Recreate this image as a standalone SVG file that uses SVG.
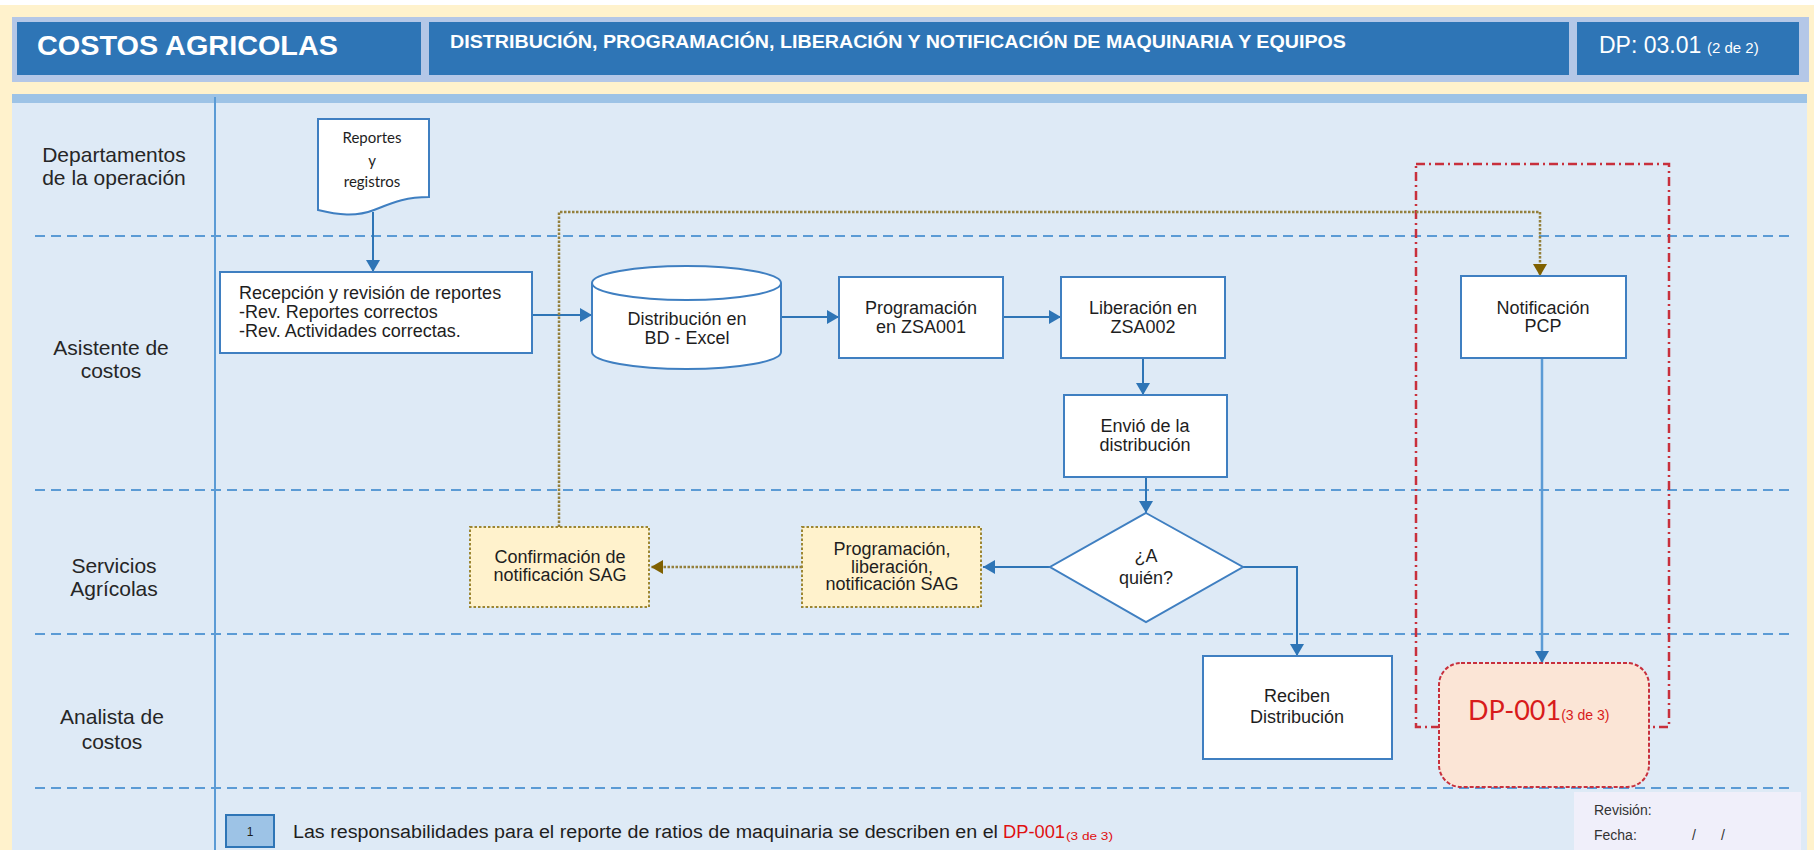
<svg xmlns="http://www.w3.org/2000/svg" width="1814" height="850" viewBox="0 0 1814 850">
  <style>
    .hdr { fill: #2E75B6; }
    .white { fill: #FFFFFF; font-family: "Liberation Sans", Arial, sans-serif; }
    .lane { fill: #262626; font-family: "Liberation Sans", Arial, sans-serif; font-size: 21px; text-anchor: middle; }
    .sep { stroke: #5B9BD5; stroke-width: 2; stroke-dasharray: 10 6; fill: none; }
    .box { fill: #FFFFFF; stroke: #3F7FC1; stroke-width: 2; }
    .sag { fill: #FFF2CC; stroke: #9C8632; stroke-width: 2; stroke-dasharray: 2.5 2; }
    .t { fill: #1E1E1E; font-family: "Liberation Sans", Arial, sans-serif; font-size: 18px; text-anchor: middle; }
    .tl { fill: #1E1E1E; font-family: "Liberation Sans", Arial, sans-serif; font-size: 18px; }
    .cal { fill: #1E1E1E; font-family: Lato, "Open Sans", sans-serif; font-size: 15px; text-anchor: middle; }
    .flow { stroke: #2E75B6; stroke-width: 2; fill: none; }
    .flow2 { stroke: #5B9BD5; stroke-width: 2.5; fill: none; }
    .dot { stroke: #94803C; stroke-width: 2.5; stroke-dasharray: 2.5 1.5; fill: none; }
    .note { fill: #1E1E1E; font-family: "Liberation Sans", Arial, sans-serif; font-size: 18px; }
    .red { fill: #E01010; font-family: "Liberation Sans", Arial, sans-serif; }
    .stamp { fill: #333333; font-family: "Liberation Sans", Arial, sans-serif; font-size: 14px; }
  </style>
  <defs>
    <marker id="arrow" markerUnits="userSpaceOnUse" markerWidth="14" markerHeight="14" refX="12" refY="7" orient="auto">
      <path d="M0,0 L12,7 L0,14 Z" fill="#2E75B6"/>
    </marker>
    <marker id="arrowOlive" markerUnits="userSpaceOnUse" markerWidth="14" markerHeight="14" refX="12" refY="7" orient="auto">
      <path d="M0,0 L12,7 L0,14 Z" fill="#7F6000"/>
    </marker>
  </defs>

  <!-- page background -->
  <rect x="0" y="0" width="1814" height="850" fill="#FFF2CC"/>
  <rect x="0" y="0" width="1814" height="5" fill="#FFFFFF"/>

  <!-- header band -->
  <g id="header">
    <rect x="12" y="17" width="1797" height="65" fill="#B4C7E7"/>
    <rect class="hdr" x="17" y="22" width="404" height="53"/>
    <rect class="hdr" x="429" y="22" width="1140" height="53"/>
    <rect class="hdr" x="1577" y="22" width="222" height="53"/>
    <text class="white" x="37" y="55" font-size="28" font-weight="bold" textLength="301" lengthAdjust="spacingAndGlyphs">COSTOS AGRICOLAS</text>
    <text class="white" x="450" y="48" font-size="19" font-weight="bold" textLength="896" lengthAdjust="spacingAndGlyphs">DISTRIBUCIÓN, PROGRAMACIÓN, LIBERACIÓN Y NOTIFICACIÓN DE MAQUINARIA Y EQUIPOS</text>
    <text class="white" x="1599" y="53" font-size="23">DP: 03.01</text>
    <text class="white" x="1707" y="53" font-size="15">(2 de 2)</text>
  </g>

  <!-- swimlane panel -->
  <g id="lanes">
    <rect x="12" y="94" width="1795" height="756" fill="#DEEAF6"/>
    <rect x="12" y="94" width="1795" height="9" fill="#9DC3E6"/>
    <line x1="215" y1="97" x2="215" y2="850" stroke="#5B9BD5" stroke-width="2"/>
    <line class="sep" x1="35" y1="236" x2="1793" y2="236"/>
    <line class="sep" x1="35" y1="490" x2="1793" y2="490"/>
    <line class="sep" x1="35" y1="634" x2="1793" y2="634"/>
    <line class="sep" x1="35" y1="788" x2="1793" y2="788"/>
    <text class="lane" x="114" y="162">Departamentos</text>
    <text class="lane" x="114" y="185">de la operación</text>
    <text class="lane" x="111" y="355">Asistente de</text>
    <text class="lane" x="111" y="378">costos</text>
    <text class="lane" x="114" y="573">Servicios</text>
    <text class="lane" x="114" y="596">Agrícolas</text>
    <text class="lane" x="112" y="724">Analista de</text>
    <text class="lane" x="112" y="749">costos</text>
  </g>

  <!-- scope frame around the PCP notification -->
  <rect id="scope" x="1416" y="164" width="253" height="563" fill="none" stroke="#C8303C" stroke-width="2.5" stroke-dasharray="9 4 2 4"/>

  <!-- connectors -->
  <g id="connectors">
    <path class="flow" d="M373,212 V272" marker-end="url(#arrow)"/>
    <path class="flow" d="M532,315 H592" marker-end="url(#arrow)"/>
    <path class="flow" d="M781,317 H839" marker-end="url(#arrow)"/>
    <path class="flow" d="M1003,317 H1061" marker-end="url(#arrow)"/>
    <path class="flow" d="M1143,358 V395" marker-end="url(#arrow)"/>
    <path class="flow" d="M1146,477 V513" marker-end="url(#arrow)"/>
    <path class="flow" d="M1050,567 H983" marker-end="url(#arrow)"/>
    <path class="flow" d="M1243,567 H1297 V656" marker-end="url(#arrow)"/>
    <path class="dot" d="M802,567 H651" marker-end="url(#arrowOlive)"/>
    <path class="dot" d="M559,527 V212 H1540 V276" marker-end="url(#arrowOlive)"/>
    <path class="flow2" d="M1542,358 V663" marker-end="url(#arrow)"/>
  </g>

  <!-- nodes -->
  <g id="reportes">
    <path class="box" d="M318,119 H429 V197 C405,197 392,203 374,210 C356,217 338,215 318,210 Z"/>
    <text class="cal" x="372" y="143">Reportes</text>
    <text class="cal" x="372" y="166">y</text>
    <text class="cal" x="372" y="187">registros</text>
  </g>

  <g id="recepcion">
    <rect class="box" x="220" y="272" width="312" height="81"/>
    <text class="tl" x="239" y="299">Recepción y revisión de reportes</text>
    <text class="tl" x="239" y="318">-Rev. Reportes correctos</text>
    <text class="tl" x="239" y="337">-Rev. Actividades correctas.</text>
  </g>

  <g id="distribucion-bd">
    <path class="box" d="M592,283 V352 A94.5,17 0 0 0 781,352 V283 A94.5,17 0 0 0 592,283 Z"/>
    <path d="M592,283 A94.5,17 0 0 0 781,283" fill="none" stroke="#3F7FC1" stroke-width="2"/>
    <text class="t" x="687" y="325">Distribución en</text>
    <text class="t" x="687" y="344">BD - Excel</text>
  </g>

  <g id="programacion">
    <rect class="box" x="839" y="277" width="164" height="81"/>
    <text class="t" x="921" y="314">Programación</text>
    <text class="t" x="921" y="333">en ZSA001</text>
  </g>

  <g id="liberacion">
    <rect class="box" x="1061" y="277" width="164" height="81"/>
    <text class="t" x="1143" y="314">Liberación en</text>
    <text class="t" x="1143" y="333">ZSA002</text>
  </g>

  <g id="envio">
    <rect class="box" x="1064" y="395" width="163" height="82"/>
    <text class="t" x="1145" y="432">Envió de la</text>
    <text class="t" x="1145" y="451">distribución</text>
  </g>

  <g id="notificacion-pcp">
    <rect class="box" x="1461" y="276" width="165" height="82"/>
    <text class="t" x="1543" y="314">Notificación</text>
    <text class="t" x="1543" y="332">PCP</text>
  </g>

  <g id="a-quien">
    <path class="box" d="M1146,513 L1243,567 L1146,622 L1050,567 Z"/>
    <text class="t" x="1146" y="562" font-size="15">¿A</text>
    <text class="t" x="1146" y="584" font-size="13">quién?</text>
  </g>

  <g id="programacion-sag">
    <rect class="sag" x="802" y="527" width="179" height="80"/>
    <text class="t" x="892" y="555">Programación,</text>
    <text class="t" x="892" y="573">liberación,</text>
    <text class="t" x="892" y="590">notificación SAG</text>
  </g>

  <g id="confirmacion-sag">
    <rect class="sag" x="470" y="527" width="179" height="80"/>
    <text class="t" x="560" y="563">Confirmación de</text>
    <text class="t" x="560" y="581">notificación SAG</text>
  </g>

  <g id="reciben">
    <rect class="box" x="1203" y="656" width="189" height="103"/>
    <text class="t" x="1297" y="702">Reciben</text>
    <text class="t" x="1297" y="723">Distribución</text>
  </g>

  <g id="dp-001">
    <rect x="1439" y="663" width="210" height="124" rx="22" ry="22" fill="#FBE5D6" stroke="#C8303C" stroke-width="2" stroke-dasharray="4 2"/>
    <text x="1468" y="720" font-family="Lato, 'Open Sans', sans-serif" font-size="27" fill="#D81B1B">DP-001<tspan font-family="'Liberation Sans', Arial, sans-serif" font-size="14">(3 de 3)</tspan></text>
  </g>

  <!-- legend note -->
  <g id="nota-1">
    <rect x="226" y="815" width="48" height="32" fill="#9DC3E6" stroke="#2E75B6" stroke-width="2"/>
    <text x="250" y="836" font-family="'Liberation Sans', Arial, sans-serif" font-size="12" fill="#1E1E1E" text-anchor="middle">1</text>
    <text class="note" x="293" y="838" textLength="705" lengthAdjust="spacingAndGlyphs">Las responsabilidades para el reporte de ratios de maquinaria se describen en el</text>
    <text class="red" x="1003" y="838" font-size="18" textLength="62" lengthAdjust="spacingAndGlyphs">DP-001</text>
    <text class="red" x="1066" y="840" font-size="11" textLength="47" lengthAdjust="spacingAndGlyphs">(3 de 3)</text>
  </g>

  <!-- revision stamp -->
  <g id="revision">
    <rect x="1574" y="792" width="227" height="58" fill="#F0EFFA"/>
    <text class="stamp" x="1594" y="815">Revisión:</text>
    <text class="stamp" x="1594" y="840">Fecha:</text>
    <text class="stamp" x="1692" y="840">/</text>
    <text class="stamp" x="1721" y="840">/</text>
  </g>
</svg>
